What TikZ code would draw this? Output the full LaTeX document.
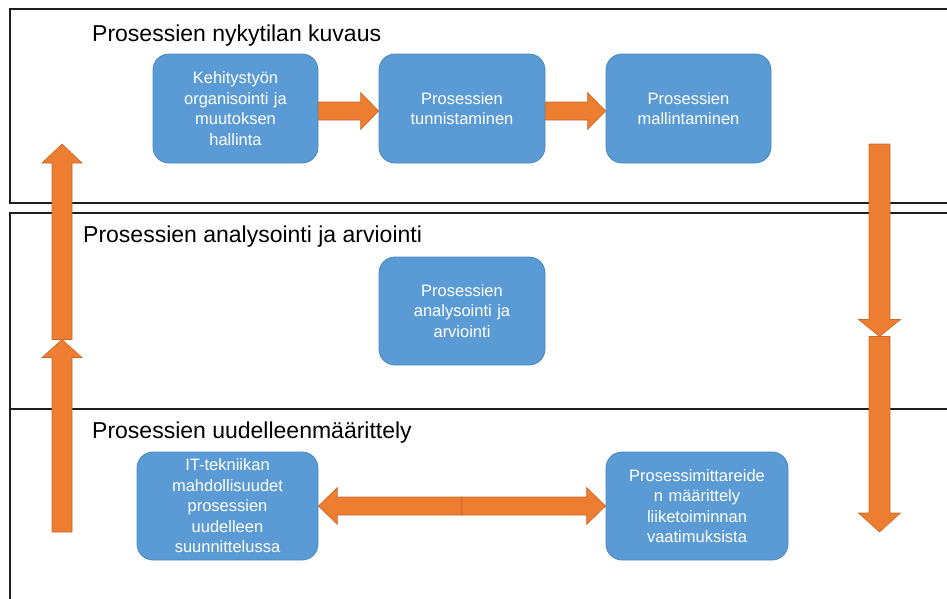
\documentclass[tikz,border=0pt]{standalone}
\usepackage{fontspec}
\setmainfont{Liberation Sans}
\usetikzlibrary{calc}

\definecolor{boxblue}{HTML}{5B9BD5}
\definecolor{boxedge}{HTML}{4A86BE}
\definecolor{arrorange}{HTML}{ED7D31}
\definecolor{arredge}{HTML}{C8682A}
\definecolor{frameline}{HTML}{1E1E1E}

% block arrow: #1 tail, #2 tip, #3 half body width, #4 half head width, #5 head length, #6 style
\newcommand\blockarr[6]{%
  \coordinate (hb) at ($(#2)!#5!(#1)$);
  \path[#6] ($(#1)!#3!90:(#2)$) -- ($(hb)!#3!-90:(#1)$) -- ($(hb)!#4!-90:(#1)$)
    -- (#2) -- ($(hb)!#4!90:(#1)$) -- ($(hb)!#3!90:(#1)$) -- ($(#1)!#3!-90:(#2)$) -- cycle;
}

\begin{document}
\begin{tikzpicture}[x=1pt,y=-1pt,
  lane/.style={draw=frameline,line width=1.2pt},
  lanetitle/.style={anchor=base west,inner sep=0pt,font=\fontsize{23}{26}\selectfont},
  procbox/.style={draw=boxedge,line width=0.8pt,fill=boxblue,rounded corners=16pt,
    text=white,align=center,inner sep=0pt,font=\fontsize{16.5}{20.5}\selectfont},
  blockfill/.style={fill=arrorange,draw=arredge,line width=0.6pt,line join=miter}]
\useasboundingbox (0,0) rectangle (947,598);

% swimlane frames (their right and lower sides run past the edge)
\draw[lane] (10,9) rectangle (975,203);
\draw[lane] (10,213) rectangle (975,409);
\draw[lane] (10,409) rectangle (975,630);
\draw[frameline,line width=2.4pt] (10,409) -- (975,409);

% lane titles
\node[lanetitle] (t1) at (92,41) {Prosessien nykytilan kuvaus};
\node[lanetitle] (t2) at (83,242) {Prosessien analysointi ja arviointi};
\node[lanetitle] (t3) at (92,438) {Prosessien uudelleenmäärittely};

% process steps
\node[procbox,minimum width=165pt,minimum height=109pt,text width=150pt] (k1) at (235.5,108.5)
  {Kehitystyön\\organisointi ja\\muutoksen\\hallinta};
\node[procbox,minimum width=166pt,minimum height=109pt,text width=150pt] (k2) at (462,108.5)
  {Prosessien\\tunnistaminen};
\node[procbox,minimum width=165pt,minimum height=109pt,text width=150pt] (k3) at (688.5,108.5)
  {Prosessien\\mallintaminen};
\node[procbox,minimum width=166pt,minimum height=108pt,text width=150pt] (an) at (462,311)
  {Prosessien\\analysointi ja\\arviointi};
\node[procbox,minimum width=181pt,minimum height=108pt,text width=165pt] (it) at (227.5,506)
  {IT-tekniikan\\mahdollisuudet\\prosessien\\uudelleen\\suunnittelussa};
\node[procbox,minimum width=182pt,minimum height=108pt,text width=170pt] (pm) at (697,506)
  {Prosessimittareide\\n määrittely\\liiketoiminnan\\vaatimuksista};

% arrows between the first-lane steps
\blockarr{[yshift=-2.5pt]k1.east}{[yshift=-2.5pt]k2.west}{9pt}{18.5pt}{18pt}{blockfill}
\blockarr{[yshift=-2.5pt]k2.east}{[yshift=-2.5pt]k3.west}{9pt}{18.5pt}{18pt}{blockfill}

% two-headed arrow in the last lane, joined at its middle
\coordinate (mid) at ($(it.east)!0.5!(pm.west)$);
\blockarr{mid}{it.east}{9pt}{18.5pt}{19pt}{blockfill}
\blockarr{mid}{pm.west}{9pt}{18.5pt}{19pt}{blockfill}

% upward arrows on the left
\coordinate (L0) at (62,532);
\coordinate (L1) at (62,339.5);
\coordinate (L2) at (62,144);
\blockarr{L0}{L1}{10pt}{20pt}{18pt}{blockfill}
\blockarr{L1}{L2}{10pt}{20pt}{19pt}{blockfill}

% downward arrows on the right
\coordinate (R0) at (879.5,144);
\coordinate (R1) at (879.5,336.5);
\coordinate (R2) at (879.5,532);
\blockarr{R0}{R1}{10.5pt}{21pt}{17pt}{blockfill}
\blockarr{R1}{R2}{10.5pt}{21pt}{19pt}{blockfill}
\end{tikzpicture}
\end{document}
